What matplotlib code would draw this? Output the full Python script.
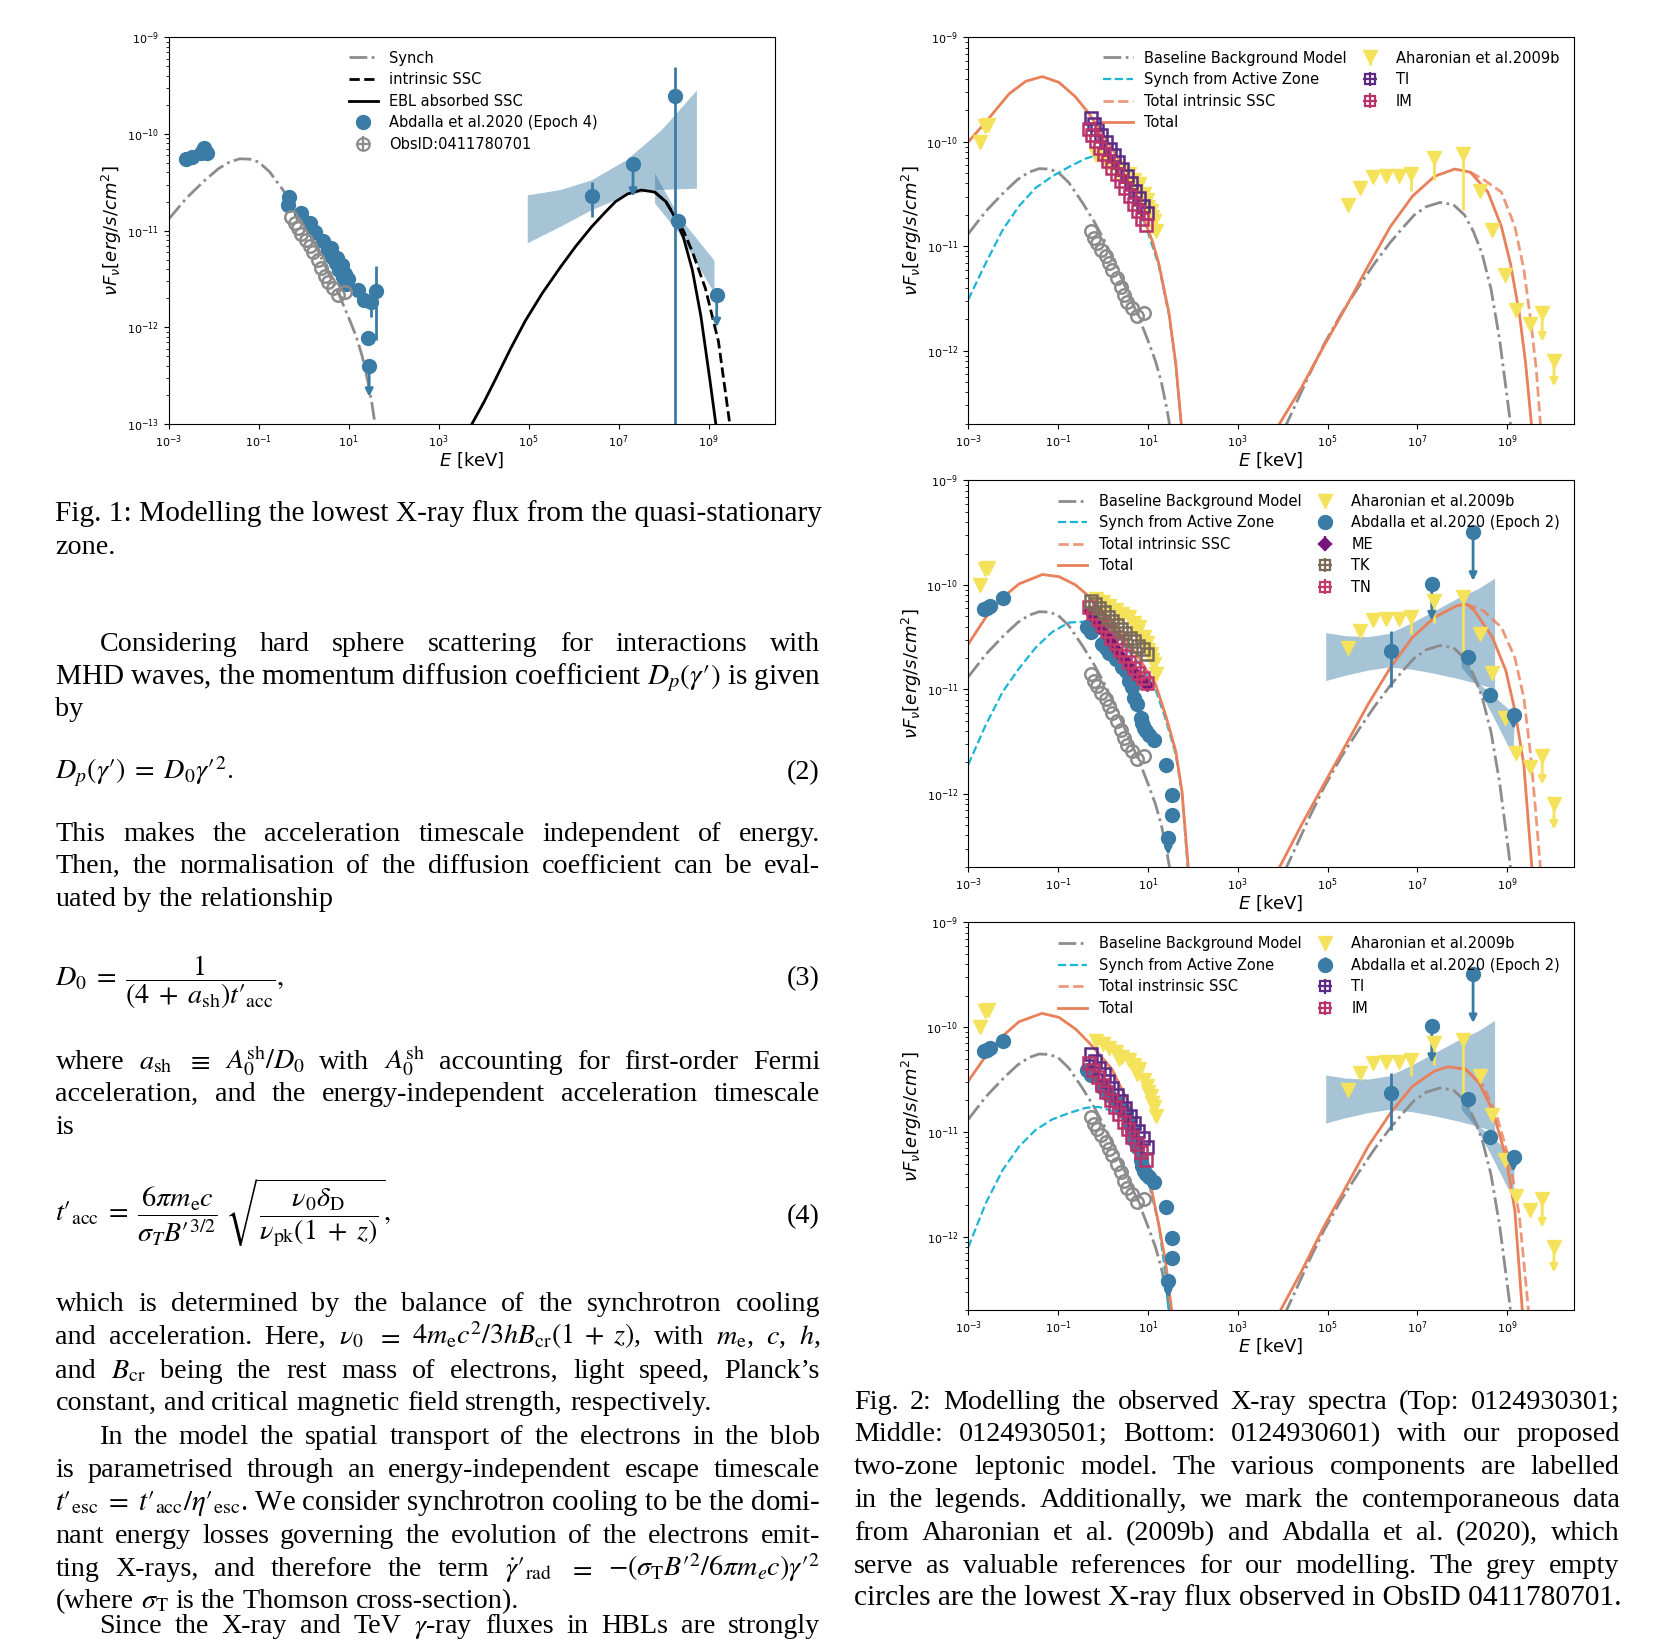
import numpy as np
from matplotlib import pyplot as plt
from matplotlib.lines import Line2D
from matplotlib.ticker import NullLocator

# ---------------------------------------------------------------------------
# data, stored as log10(E / keV) and log10(nuF_nu / erg s^-1 cm^-2)
# ---------------------------------------------------------------------------
# baseline (quasi-stationary zone) synchrotron
bsyn_e = [-3.0, -2.6, -2.2, -1.9, -1.65, -1.42, -1.2, -1.0, -0.76, -0.46, -0.2,
          0.05, 0.3, 0.54, 0.8, 1.0, 1.17, 1.3, 1.42, 1.52, 1.6]
bsyn_f = [-10.88, -10.66, -10.48, -10.36, -10.29, -10.256, -10.26, -10.29, -10.39,
          -10.58, -10.76, -10.96, -11.19, -11.43, -11.68, -11.9, -12.1, -12.3,
          -12.55, -12.8, -13.05]
# baseline SSC, EBL absorbed
bssc_e = [3.74, 4.0, 4.25, 4.6, 4.93, 5.3, 5.71, 6.05, 6.4, 6.7, 6.93, 7.2, 7.5,
          7.8, 8.05, 8.25, 8.44, 8.64, 8.83, 9.03, 9.16]
bssc_f = [-13.0, -12.78, -12.55, -12.22, -11.93, -11.65, -11.375, -11.16, -10.96,
          -10.81, -10.7, -10.62, -10.58, -10.6, -10.7, -10.86, -11.07, -11.41,
          -11.89, -12.55, -13.0]
# baseline SSC, intrinsic (tail where it departs from the absorbed one)
bint_e = [7.8, 8.05, 8.25, 8.44, 8.64, 8.93, 9.22, 9.47]
bint_f = [-10.6, -10.7, -10.85, -11.0, -11.22, -11.6, -12.15, -13.0]

# ObsID 0411780701 (lowest X-ray flux)
obs_e = [-0.274, -0.2, -0.126, -0.052, 0.059, 0.133, 0.207, 0.319, 0.393, 0.467,
         0.541, 0.652, 0.763, 0.911]
obs_f = [-10.856, -10.92, -10.97, -11.03, -11.096, -11.16, -11.224, -11.305,
         -11.385, -11.465, -11.53, -11.59, -11.67, -11.64]

# Abdalla et al. 2020 (Epoch 4)
ep4_e = [-2.61, -2.48, -2.29, -2.22, -2.16, -0.35, -0.32, -0.06, 0.13, 0.24, 0.42,
         0.53, 0.6, 0.64, 0.72, 0.75, 0.79, 0.85, 0.87, 0.92, 0.94, 0.98, 1.2, 1.34,
         1.49, 1.615, 1.44, 1.455, 6.4, 7.32, 8.25, 8.33, 9.18]
ep4_f = [-10.256, -10.24, -10.2, -10.14, -10.2, -10.735, -10.649, -10.82, -10.92,
         -11.01, -11.11, -11.2, -11.18, -11.27, -11.34, -11.28, -11.41, -11.36,
         -11.48, -11.45, -11.55, -11.5, -11.615, -11.72, -11.74, -11.62, -12.115,
         -12.4, -10.64, -10.31, -9.61, -10.9, -11.67]
ep4_lo = [-10.256, -10.24, -10.2, -10.14, -10.2, -10.735, -10.649, -10.82, -10.92,
          -11.01, -11.11, -11.2, -11.18, -11.27, -11.34, -11.28, -11.41, -11.36,
          -11.48, -11.45, -11.55, -11.5, -11.615, -11.72, -11.89, -12.13, -12.115,
          -12.4, -10.86, -10.31, -14.0, -10.9, -11.67]
ep4_hi = [-10.256, -10.24, -10.2, -10.14, -10.2, -10.735, -10.649, -10.82, -10.92,
          -11.01, -11.11, -11.2, -11.18, -11.27, -11.34, -11.28, -11.41, -11.36,
          -11.48, -11.45, -11.55, -11.5, -11.615, -11.72, -11.74, -11.37, -12.115,
          -12.4, -10.5, -10.31, -9.31, -10.9, -11.67]
ep4_ul_e = [1.455, 7.32, 9.18]
ep4_ul_f = [-12.4, -10.31, -11.67]
ep4_ul_to = [-12.72, -10.65, -12.0]
# butterflies (Epoch 4)
ep4_lat_e = [4.98, 5.71, 6.4, 7.18, 7.96, 8.74, 8.74, 7.81, 7.18, 6.4, 5.71, 4.98]
ep4_lat_f = [-10.635, -10.58, -10.48, -10.27, -9.96, -9.55, -10.566, -10.58,
             -10.635, -10.79, -10.96, -11.13]
ep4_hess_e = [7.81, 8.35, 9.13, 9.13, 8.35, 7.81]
ep4_hess_f = [-10.41, -10.86, -11.31, -11.65, -11.03, -10.72]

# Aharonian et al. 2009b
aha_e = [-2.74, -2.63, -2.56, -0.16, -0.01, 0.13, 0.28, 0.35, 0.43, 0.58, 0.69, 0.75,
         0.8, 0.91, 0.99, 1.0, 1.06, 1.1, 1.13, 1.19, 5.45, 5.73, 6.02, 6.3, 6.58,
         6.86, 7.36, 8.01, 8.39, 8.67, 8.95, 9.2, 9.5, 9.78, 10.04]
aha_f = [-10.0, -9.85, -9.84, -10.13, -10.16, -10.2, -10.24, -10.3, -10.28, -10.31,
         -10.36, -10.45, -10.4, -10.5, -10.56, -10.62, -10.66, -10.72, -10.76,
         -10.85, -10.6, -10.44, -10.34, -10.33, -10.33, -10.31, -10.15, -10.12,
         -10.47, -10.84, -11.27, -11.61, -11.74, -11.64, -12.1]
aha_lo = [-10.0, -9.85, -9.84, -10.13, -10.16, -10.2, -10.24, -10.3, -10.28, -10.31,
          -10.36, -10.45, -10.4, -10.5, -10.56, -10.62, -10.66, -10.72, -10.76,
          -10.85, -10.6, -10.44, -10.34, -10.33, -10.33, -10.47, -10.36, -10.65,
          -10.47, -10.84, -11.27, -11.61, -11.74, -11.64, -12.1]
aha_hi = [-10.0, -9.85, -9.84, -10.13, -10.16, -10.2, -10.24, -10.3, -10.28, -10.31,
          -10.36, -10.45, -10.4, -10.5, -10.56, -10.62, -10.66, -10.72, -10.76,
          -10.85, -10.6, -10.44, -10.34, -10.33, -10.33, -10.26, -10.12, -10.12,
          -10.47, -10.84, -11.27, -11.61, -11.74, -11.64, -12.1]
aha_ul_e = [9.78, 10.04]
aha_ul_f = [-11.64, -12.1]
aha_ul_to = [-11.91, -12.34]

# Abdalla et al. 2020 (Epoch 2)
ep2_e = [-2.64, -2.58, -2.52, -2.22, -0.348, -0.274, -0.015, 0.059, 0.133, 0.281,
         0.43, 0.504, 0.578, 0.652, 0.689, 0.763, 0.837, 0.874, 0.911, 0.948, 1.022,
         1.133, 1.393, 1.541, 1.541, 1.452, 6.42, 7.32, 8.24, 8.13, 8.62, 9.14]
ep2_f = [-10.23, -10.22, -10.198, -10.128, -10.407, -10.454, -10.566, -10.6, -10.647,
         -10.711, -10.79, -10.823, -10.919, -10.98, -11.08, -11.143, -11.272, -11.32,
         -11.368, -11.4, -11.432, -11.48, -11.72, -12.009, -12.2, -12.426, -10.63,
         -9.99, -9.49, -10.69, -11.05, -11.24]
ep2_lo = list(ep2_f[:26]) + [-10.98, -9.99, -9.49, -10.69, -11.05, -11.24]
ep2_hi = list(ep2_f[:26]) + [-10.44, -9.99, -9.49, -10.69, -11.05, -11.24]
ep2_ul_e = [1.452, 7.32, 8.24, 9.14]
ep2_ul_f = [-12.426, -9.99, -9.49, -11.24]
ep2_ul_to = [-12.586, -10.34, -9.96, -11.38]
ep2_lat_e = [4.97, 5.39, 5.91, 6.36, 6.87, 7.39, 7.91, 8.36, 8.73,
             8.73, 8.36, 7.91, 7.39, 6.87, 6.36, 5.91, 5.39, 4.97]
ep2_lat_f = [-10.46, -10.49, -10.5, -10.47, -10.37, -10.25, -10.13, -10.04, -9.94,
             -11.0, -10.95, -10.9, -10.85, -10.81, -10.79, -10.82, -10.87, -10.92]
ep2_hess_e = [7.985, 8.39, 9.17, 9.14, 8.62, 8.3, 7.985]
ep2_hess_f = [-10.65, -10.95, -11.24, -11.64, -11.2, -10.95, -10.79]

# ---- top panel (0124930301)
t_tot_e = [-3.0, -2.61, -2.09, -1.72, -1.35, -0.98, -0.61, -0.31, 0.0, 0.3, 0.6,
           0.95, 1.1, 1.24, 1.47, 1.62, 1.75]
t_tot_f = [-10.0, -9.81, -9.54, -9.42, -9.375, -9.43, -9.57, -9.73, -9.93, -10.13,
           -10.38, -10.78, -10.95, -11.16, -11.64, -12.12, -12.73]
t_act_e = [-3.0, -2.61, -2.23, -1.87, -1.5, -1.13, -0.76, -0.39, -0.16, 0.2, 0.6,
           0.95, 1.24, 1.47, 1.62, 1.75]
t_act_f = [-11.51, -11.16, -10.84, -10.615, -10.44, -10.33, -10.24, -10.16, -10.13,
           -10.2, -10.45, -10.8, -11.18, -11.66, -12.14, -12.75]
t_hi_e = [3.92, 4.42, 4.91, 5.41, 5.9, 6.4, 6.89, 7.38, 7.83, 8.18, 8.57, 8.87,
          9.07, 9.27, 9.41, 9.54]
t_hi_f = [-12.705, -12.35, -11.96, -11.58, -11.19, -10.81, -10.52, -10.33, -10.26,
          -10.29, -10.48, -10.81, -11.16, -11.64, -12.12, -12.705]
t_int_e = [8.18, 8.47, 8.87, 9.17, 9.37, 9.52, 9.65, 9.74]
t_int_f = [-10.29, -10.36, -10.48, -10.81, -11.22, -11.7, -12.19, -12.705]
t_ti_e = [-0.274, -0.2, -0.126, -0.037, 0.059, 0.148, 0.244, 0.341, 0.43, 0.526,
          0.615, 0.711, 0.8, 0.896, 0.985]
t_ti_f = [-9.775, -9.83, -9.878, -9.936, -10.0, -10.064, -10.128, -10.192, -10.256,
          -10.327, -10.397, -10.471, -10.535, -10.615, -10.685]
t_im_e = [-0.311, -0.237, -0.163, -0.074, 0.022, 0.119, 0.207, 0.304, 0.4, 0.496,
          0.593, 0.689, 0.778, 0.867, 0.948]
t_im_f = [-9.878, -9.936, -9.99, -10.054, -10.118, -10.182, -10.246, -10.31, -10.374,
          -10.445, -10.519, -10.59, -10.663, -10.737, -10.8]

# ---- middle panel (0124930501)
m_tot_e = [-3.0, -2.61, -2.23, -1.87, -1.35, -0.98, -0.61, -0.31, 0.0, 0.4, 0.8,
           1.17, 1.39, 1.62, 1.76, 1.9]
m_tot_f = [-10.566, -10.31, -10.12, -9.99, -9.9, -9.92, -10.0, -10.11, -10.25,
           -10.45, -10.7, -10.95, -11.24, -11.59, -11.98, -12.71]
m_act_e = [-3.0, -2.61, -2.23, -1.87, -1.5, -1.13, -0.76, -0.4, 0.0, 0.4, 0.8,
           1.17, 1.39, 1.62, 1.76, 1.89]
m_act_f = [-11.72, -11.34, -11.02, -10.8, -10.6, -10.45, -10.36, -10.35, -10.42,
           -10.55, -10.75, -11.0, -11.28, -11.62, -12.0, -12.72]
m_hi_e = [3.92, 4.42, 4.91, 5.41, 5.9, 6.4, 6.89, 7.38, 7.88, 8.1, 8.27, 8.67,
          8.97, 9.17, 9.37, 9.55]
m_hi_f = [-12.71, -12.297, -11.913, -11.528, -11.144, -10.79, -10.502, -10.31,
          -10.198, -10.185, -10.246, -10.502, -10.82, -11.2, -11.72, -12.71]
m_int_e = [8.1, 8.47, 8.87, 9.17, 9.37, 9.52, 9.62, 9.74]
m_int_f = [-10.185, -10.246, -10.406, -10.695, -11.08, -11.62, -12.1, -12.71]
m_sq_e = [-0.311, -0.215, -0.111, -0.015, 0.089, 0.185, 0.289, 0.385, 0.489, 0.585,
          0.689, 0.785, 0.889, 0.985]
m_tk_e = [-0.274, -0.178, -0.081, 0.015, 0.111, 0.207, 0.304, 0.4, 0.496, 0.593,
          0.689, 0.785, 0.881, 0.985]
m_tk_f = [-10.15, -10.182, -10.22, -10.262, -10.304, -10.342, -10.381, -10.422,
          -10.464, -10.503, -10.541, -10.583, -10.615, -10.657]
m_tn_f = [-10.214, -10.272, -10.329, -10.387, -10.445, -10.503, -10.56, -10.618,
          -10.676, -10.733, -10.791, -10.842, -10.887, -10.935]
m_me_f = [-10.25, -10.31, -10.37, -10.43, -10.49, -10.55, -10.61, -10.67, -10.72,
          -10.78, -10.83, -10.88, -10.92, -10.96]

# ---- bottom panel (0124930601)
b_tot_e = [-3.0, -2.61, -2.23, -1.87, -1.36, -0.98, -0.61, -0.31, 0.2, 0.6, 0.9,
           1.1, 1.24, 1.39, 1.54]
b_tot_f = [-10.515, -10.275, -10.083, -9.948, -9.868, -9.906, -10.018, -10.147,
           -10.4, -10.75, -11.2, -11.59, -11.88, -12.23, -12.74]
b_act_e = [-3.0, -2.61, -2.23, -1.87, -1.5, -1.13, -0.76, -0.39, -0.1, 0.21, 0.5,
           0.8, 0.95, 1.06, 1.24, 1.36, 1.47]
b_act_f = [-12.1, -11.68, -11.36, -11.14, -10.98, -10.88, -10.82, -10.77, -10.76,
           -10.8, -10.88, -11.04, -11.24, -11.56, -11.88, -12.26, -12.74]
b_hi_e = [3.92, 4.42, 4.91, 5.41, 5.9, 6.4, 6.89, 7.38, 7.68, 8.07, 8.37, 8.67,
          8.97, 9.17, 9.34]
b_hi_f = [-12.727, -12.33, -11.91, -11.525, -11.14, -10.82, -10.563, -10.419,
          -10.378, -10.4, -10.53, -10.788, -11.236, -11.75, -12.727]
b_int_e = [8.07, 8.47, 8.77, 9.07, 9.27, 9.48]
b_int_f = [-10.4, -10.56, -10.85, -11.3, -11.8, -12.73]
b_ti_e = [-0.274, -0.178, -0.081, 0.015, 0.111, 0.207, 0.304, 0.4, 0.496, 0.593,
          0.689, 0.785, 0.881, 0.985]
b_ti_f = [-10.259, -10.323, -10.387, -10.451, -10.515, -10.579, -10.643, -10.707,
          -10.772, -10.845, -10.916, -10.986, -11.06, -11.14]
b_im_e = [-0.311, -0.215, -0.118, -0.022, 0.074, 0.17, 0.267, 0.363, 0.459, 0.556,
          0.652, 0.748, 0.845, 0.948]
b_im_f = [-10.339, -10.41, -10.48, -10.551, -10.621, -10.692, -10.762, -10.833,
          -10.903, -10.974, -11.044, -11.115, -11.189, -11.269]

# ---------------------------------------------------------------------------
GREY = '#8c8c8c'
BLUE = '#3a7ca5'
YELLOW = '#f4e35a'
ORANGE = '#e8805a'
CYAN = '#1bb6d6'
TI_C, IM_C = '#5d2a85', '#b8336a'
TK_C, TN_C, ME_C = '#7b6a58', '#c23a6a', '#74167c'


def lg(a):
    return 10.0 ** np.asarray(a, dtype=float)


W, H = 1674, 1641
fig = plt.figure(figsize=(W / 100, H / 100), dpi=100)
page = fig.add_axes([0, 0, 1, 1])
page.set_xlim(0, W)
page.set_ylim(H, 0)
page.axis('off')


def sed_axes(rect, ylo):
    ax = fig.add_axes(rect)
    ax.set_xscale('log')
    ax.set_yscale('log')
    ax.set_xlim(1e-3, 3e10)
    ax.set_ylim(ylo, 1e-9)
    ax.set_xticks([10.0 ** k for k in range(-3, 10, 2)])
    ax.xaxis.set_minor_locator(NullLocator())
    ax.tick_params(labelsize=8, length=3.5, width=0.8)
    ax.tick_params(which='minor', length=2, width=0.6)
    ax.set_xlabel(r'$E$ [keV]', fontsize=13, labelpad=0)
    ax.set_ylabel(r'$\nu F_{\nu}[erg/s/cm^2]$', fontsize=13, labelpad=2)
    return ax


def errpts(ax, e, f, lo, hi, color, marker, ms, label=None, z=4):
    y = lg(f)
    yerr = [y - lg(lo), lg(hi) - y]
    return ax.errorbar(lg(e), y, yerr=yerr, fmt=marker, color=color, ms=ms,
                       elinewidth=2, capsize=0, label=label, zorder=z)


def arrows(ax, e, f, to, color):
    for x, a, b in zip(e, f, to):
        ax.annotate('', xy=(10 ** x, 10 ** b), xytext=(10 ** x, 10 ** a),
                    arrowprops=dict(arrowstyle='-|>', color=color, lw=2,
                                    mutation_scale=11, shrinkA=0, shrinkB=0),
                    zorder=4)


def open_pts(ax, e, f, color, marker, ms):
    ax.plot(lg(e), lg(f), marker, ls='none', mfc='none', mec=color, ms=ms, mew=1.8,
            zorder=5)


def box_handle(ax, color, marker, ms, mfc='none'):
    return ax.errorbar([np.nan], [np.nan], xerr=[1.0], yerr=[1.0], fmt=marker,
                       mfc=mfc, mec=color, ecolor=color, ms=ms, mew=1.6,
                       elinewidth=1.6)


LEG = dict(frameon=False, fontsize=10.5, labelspacing=0.45, handlelength=2.0,
           handletextpad=0.8, borderpad=0.4, loc='upper left')

# ---------------------------------- Fig. 1 ---------------------------------
ax1 = sed_axes([0.1008, 0.7417, 0.3622, 0.2355], 1e-13)
ax1.fill(lg(ep4_lat_e), lg(ep4_lat_f), color=BLUE, alpha=0.45, lw=0, zorder=1)
ax1.fill(lg(ep4_hess_e), lg(ep4_hess_f), color=BLUE, alpha=0.45, lw=0, zorder=1)
ax1.plot(lg(bsyn_e), lg(bsyn_f), '-.', color=GREY, lw=2, zorder=2)
ax1.plot(lg(bint_e), lg(bint_f), '--', color='k', lw=2, zorder=2)
ax1.plot(lg(bssc_e), lg(bssc_f), '-', color='k', lw=2, zorder=2)
h_ep4 = errpts(ax1, ep4_e, ep4_f, ep4_lo, ep4_hi, BLUE, 'o', 10)
arrows(ax1, ep4_ul_e, ep4_ul_f, ep4_ul_to, BLUE)
open_pts(ax1, obs_e, obs_f, GREY, 'o', 9)
h_obs = box_handle(ax1, GREY, 'o', 9)
ax1.set_xlim(1e-3, 3e10)
ax1.set_ylim(1e-13, 1e-9)
ax1.legend([Line2D([], [], ls='-.', color=GREY, lw=2),
            Line2D([], [], ls='--', color='k', lw=2),
            Line2D([], [], ls='-', color='k', lw=2), h_ep4, h_obs],
           ['Synch', 'intrinsic SSC', 'EBL absorbed SSC',
            'Abdalla et al.2020 (Epoch 4)', 'ObsID:0411780701'],
           bbox_to_anchor=(0.275, 1.0), **LEG)

# ---------------------------------- Fig. 2 ---------------------------------
line_handles = [Line2D([], [], ls='-.', color=GREY, lw=2),
                Line2D([], [], ls='--', color=CYAN, lw=1.6),
                Line2D([], [], ls='--', color=ORANGE, lw=2, alpha=0.8),
                Line2D([], [], ls='-', color=ORANGE, lw=2)]


def base_curves(ax, tot_e, tot_f, act_e, act_f, hi_e, hi_f, int_e, int_f):
    ax.plot(lg(bsyn_e), lg(bsyn_f), '-.', color=GREY, lw=2, zorder=2)
    ax.plot(lg(bssc_e), lg(bssc_f), '-.', color=GREY, lw=2, zorder=2)
    ax.plot(lg(act_e), lg(act_f), '--', color=CYAN, lw=1.6, zorder=2)
    ax.plot(lg(int_e), lg(int_f), '--', color=ORANGE, lw=2, alpha=0.8, zorder=2)
    ax.plot(lg(tot_e), lg(tot_f), '-', color=ORANGE, lw=2, zorder=2)
    ax.plot(lg(hi_e), lg(hi_f), '-', color=ORANGE, lw=2, zorder=2)


RECT_X, RECT_W = 0.5784, 0.3616

# top
axt = sed_axes([RECT_X, 0.7417, RECT_W, 0.2355], 2e-13)
base_curves(axt, t_tot_e, t_tot_f, t_act_e, t_act_f, t_hi_e, t_hi_f, t_int_e, t_int_f)
h_aha = errpts(axt, aha_e, aha_f, aha_lo, aha_hi, YELLOW, 'v', 10)
arrows(axt, aha_ul_e, aha_ul_f, aha_ul_to, YELLOW)
open_pts(axt, obs_e, obs_f, GREY, 'o', 9)
open_pts(axt, t_ti_e, t_ti_f, TI_C, 's', 8)
open_pts(axt, t_im_e, t_im_f, IM_C, 's', 8)
h_ti = box_handle(axt, TI_C, 's', 7)
h_im = box_handle(axt, IM_C, 's', 7)
axt.set_xlim(1e-3, 3e10)
axt.set_ylim(2e-13, 1e-9)
lab1 = ['Baseline Background Model', 'Synch from Active Zone',
        'Total intrinsic SSC', 'Total']
l1 = axt.legend(line_handles, lab1, bbox_to_anchor=(0.2015, 1.0), **LEG)
axt.add_artist(l1)
axt.legend([h_aha, h_ti, h_im], ['Aharonian et al.2009b', 'TI', 'IM'],
           bbox_to_anchor=(0.6176, 1.0), **LEG)

# middle
axm = sed_axes([RECT_X, 0.4717, RECT_W, 0.2355], 2e-13)
axm.fill(lg(ep2_lat_e), lg(ep2_lat_f), color=BLUE, alpha=0.45, lw=0, zorder=1)
axm.fill(lg(ep2_hess_e), lg(ep2_hess_f), color=BLUE, alpha=0.45, lw=0, zorder=1)
base_curves(axm, m_tot_e, m_tot_f, m_act_e, m_act_f, m_hi_e, m_hi_f, m_int_e, m_int_f)
h_aha_m = errpts(axm, aha_e, aha_f, aha_lo, aha_hi, YELLOW, 'v', 10)
arrows(axm, aha_ul_e, aha_ul_f, aha_ul_to, YELLOW)
h_ep2 = errpts(axm, ep2_e, ep2_f, ep2_lo, ep2_hi, BLUE, 'o', 10)
arrows(axm, ep2_ul_e, ep2_ul_f, ep2_ul_to, BLUE)
open_pts(axm, obs_e, obs_f, GREY, 'o', 9)
axm.plot(lg(m_sq_e), lg(m_me_f), 'D', ls='none', color=ME_C, ms=6, zorder=5)
open_pts(axm, m_sq_e, m_tn_f, TN_C, 's', 8)
open_pts(axm, m_tk_e, m_tk_f, TK_C, 's', 8)
h_me = box_handle(axm, ME_C, 'D', 6, mfc=ME_C)
h_tk = box_handle(axm, TK_C, 's', 7)
h_tn = box_handle(axm, TN_C, 's', 7)
axm.set_xlim(1e-3, 3e10)
axm.set_ylim(2e-13, 1e-9)
l2 = axm.legend(line_handles, lab1, bbox_to_anchor=(0.1266, 1.0), **LEG)
axm.add_artist(l2)
axm.legend([h_aha_m, h_ep2, h_me, h_tk, h_tn],
           ['Aharonian et al.2009b', 'Abdalla et al.2020 (Epoch 2)', 'ME', 'TK', 'TN'],
           bbox_to_anchor=(0.5436, 1.0), **LEG)

# bottom
axb = sed_axes([RECT_X, 0.2017, RECT_W, 0.2362], 2e-13)
axb.fill(lg(ep2_lat_e), lg(ep2_lat_f), color=BLUE, alpha=0.45, lw=0, zorder=1)
axb.fill(lg(ep2_hess_e), lg(ep2_hess_f), color=BLUE, alpha=0.45, lw=0, zorder=1)
base_curves(axb, b_tot_e, b_tot_f, b_act_e, b_act_f, b_hi_e, b_hi_f, b_int_e, b_int_f)
h_aha_b = errpts(axb, aha_e, aha_f, aha_lo, aha_hi, YELLOW, 'v', 10)
arrows(axb, aha_ul_e, aha_ul_f, aha_ul_to, YELLOW)
h_ep2_b = errpts(axb, ep2_e, ep2_f, ep2_lo, ep2_hi, BLUE, 'o', 10)
arrows(axb, ep2_ul_e, ep2_ul_f, ep2_ul_to, BLUE)
open_pts(axb, obs_e, obs_f, GREY, 'o', 9)
open_pts(axb, b_ti_e, b_ti_f, TI_C, 's', 8)
open_pts(axb, b_im_e, b_im_f, IM_C, 's', 8)
h_ti_b = box_handle(axb, TI_C, 's', 7)
h_im_b = box_handle(axb, IM_C, 's', 7)
axb.set_xlim(1e-3, 3e10)
axb.set_ylim(2e-13, 1e-9)
lab3 = ['Baseline Background Model', 'Synch from Active Zone',
        'Total instrinsic SSC', 'Total']
l3 = axb.legend(line_handles, lab3, bbox_to_anchor=(0.1266, 0.998), **LEG)
axb.add_artist(l3)
axb.legend([h_aha_b, h_ep2_b, h_ti_b, h_im_b],
           ['Aharonian et al.2009b', 'Abdalla et al.2020 (Epoch 2)', 'TI', 'IM'],
           bbox_to_anchor=(0.5436, 0.998), **LEG)

# ---------------------------------- page text --------------------------------
SERIF = 'Liberation Serif'
LX0, LX1 = 55.5, 820.0
RX0, RX1 = 854.0, 1619.5
IND = 44.0

left_lines = [
    ("Fig. 1: Modelling the lowest X-ray flux from the quasi-stationary", 521, True, 0),
    ("zone.", 554, False, 0),
    ("Considering hard sphere scattering for interactions with", 651, True, IND),
    (r"MHD waves, the momentum diffusion coefficient $D_p(\gamma′)$ is given", 684, True, 0),
    ("by", 716, False, 0),
    ("This makes the acceleration timescale independent of energy.", 841, True, 0),
    ("Then, the normalisation of the diffusion coefficient can be eval-", 873, True, 0),
    ("uated by the relationship", 906, False, 0),
    (r"where $a_{\mathrm{sh}}$ $\equiv$ $A_0^{\mathrm{sh}}/D_0$ with $A_0^{\mathrm{sh}}$ accounting for first-order Fermi", 1069, True, 0),
    ("acceleration, and the energy-independent acceleration timescale", 1101, True, 0),
    ("is", 1134, False, 0),
    ("which is determined by the balance of the synchrotron cooling", 1311, True, 0),
    (r"and acceleration. Here, $\nu_0$ $=$ $4m_{\mathrm{e}}c^2/3hB_{\mathrm{cr}}(1\;+\;z)$, with $m_{\mathrm{e}}$, $c$, $h$,", 1344, True, 0),
    (r"and $B_{\mathrm{cr}}$ being the rest mass of electrons, light speed, Planck’s", 1378, True, 0),
    ("constant, and critical magnetic field strength, respectively.", 1410, False, 0),
    ("In the model the spatial transport of the electrons in the blob", 1444, True, IND),
    ("is parametrised through an energy-independent escape timescale", 1477, True, 0),
    (r"$t′_{\mathrm{esc}}\;=\;t′_{\mathrm{acc}}/\eta′_{\mathrm{esc}}$. We consider synchrotron cooling to be the domi-", 1510, True, 0),
    ("nant energy losses governing the evolution of the electrons emit-", 1543, True, 0),
    (r"ting X-rays, and therefore the term $\dot{\gamma}′_{\mathrm{rad}}$ $=$ $-(\sigma_{\mathrm{T}}B′^2/6\pi m_e c)\gamma′^2$", 1576, True, 0),
    (r"(where $\sigma_{\mathrm{T}}$ is the Thomson cross-section).", 1608, False, 0),
    (r"Since the X-ray and TeV $\gamma$-ray fluxes in HBLs are strongly", 1633, True, IND),
]
right_lines = [
    ("Fig. 2: Modelling the observed X-ray spectra (Top: 0124930301;", 1409, True, 0),
    ("Middle: 0124930501; Bottom: 0124930601) with our proposed", 1441, True, 0),
    ("two-zone leptonic model. The various components are labelled", 1474, True, 0),
    ("in the legends. Additionally, we mark the contemporaneous data", 1507, True, 0),
    ("from Aharonian et al. (2009b) and Abdalla et al. (2020), which", 1540, True, 0),
    ("serve as valuable references for our modelling. The grey empty", 1573, True, 0),
    ("circles are the lowest X-ray flux observed in ObsID 0411780701.", 1605, True, 0),
]

rend = fig.canvas.get_renderer()


def tokens(s):
    out, cur, math = [], '', False
    for ch in s:
        if ch == '$':
            math = not math
        if ch == ' ' and not math:
            out.append(cur)
            cur = ''
        else:
            cur += ch
    out.append(cur)
    return out


def word(x, y, s, fs, **kw):
    return page.text(x, y, s, fontsize=fs, family=SERIF, math_fontfamily='stix',
                     va='baseline', ha='left', **kw)


def natural(s, fs):
    toks = tokens(s)
    w = 0.0
    for tk in toks:
        t = word(0, 0, tk, fs)
        w += t.get_window_extent(rend).width
        t.remove()
    return w + (len(toks) - 1) * 0.25 * fs * 100 / 72


FS0 = 20.0
ratios = []
for col, (x0, x1) in ((left_lines, (LX0, LX1)), (right_lines, (RX0, RX1))):
    for s, y, just, ind in col:
        if just:
            ratios.append((x1 - x0 - ind) / natural(s, FS0))
FS = FS0 * min(ratios) * 0.975


def put_line(s, x0, x1, y, just, ind):
    avail = x1 - x0 - ind
    if just:
        # lines that are already almost full: one text, size nudged to fill
        t = word(x0 + ind, y, s, FS)
        w = t.get_window_extent(rend).width
        if w >= 0.955 * avail:
            t.set_fontsize(FS * avail / w)
            return
        t.remove()
    toks = tokens(s)
    objs = [word(0, y, tk, FS) for tk in toks]
    ws = [o.get_window_extent(rend).width for o in objs]
    if just and len(toks) > 1:
        gap = (avail - sum(ws)) / (len(toks) - 1)
    else:
        gap = 0.25 * FS * 100 / 72
    x = x0 + ind
    for o, w in zip(objs, ws):
        o.set_x(x)
        x += w + gap


for s, y, just, ind in left_lines:
    put_line(s, LX0, LX1, y, just, ind)
for s, y, just, ind in right_lines:
    put_line(s, RX0, RX1, y, just, ind)

# display equations
page.text(LX0, 779, r'$D_p(\gamma′)\;=\;D_0\gamma′^2.$', fontsize=FS,
          family=SERIF, math_fontfamily='stix', va='baseline')
page.text(LX0, 982,
          r'$D_0\;=\;\dfrac{1}{(4\;+\;a_{\mathrm{sh}})t′_{\mathrm{acc}}},$',
          fontsize=FS, family=SERIF, math_fontfamily='stix', va='center')
page.text(LX0, 1213,
          r'$t′_{\mathrm{acc}}\;=\;\dfrac{6\pi m_{\mathrm{e}}c}{\sigma_T B′^{3/2}}\ '
          r'\sqrt{\dfrac{\nu_0\delta_{\mathrm{D}}}{\nu_{\mathrm{pk}}(1\;+\;z)}},$',
          fontsize=FS, family=SERIF, math_fontfamily='stix', va='center')
for lab, y in (('(2)', 779), ('(3)', 985), ('(4)', 1223)):
    page.text(LX1, y, lab, fontsize=FS, family=SERIF, va='baseline', ha='right')

fig.savefig('out.png', dpi=100)
